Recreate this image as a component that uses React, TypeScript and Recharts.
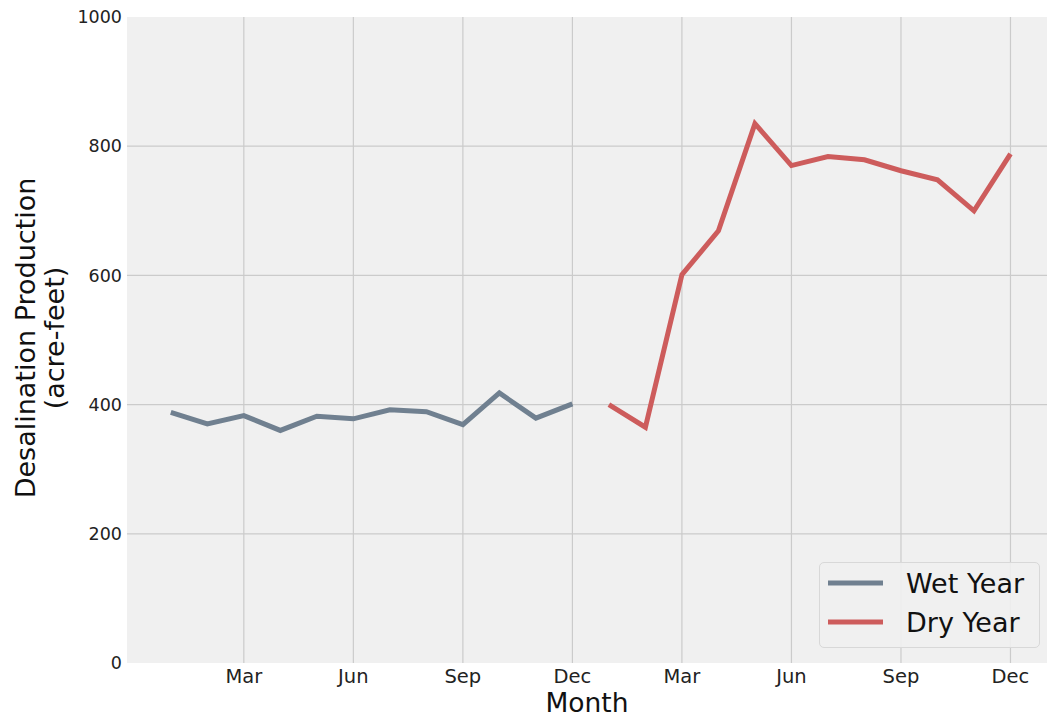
import React from 'react';
import {
  LineChart,
  Line,
  XAxis,
  YAxis,
  CartesianGrid,
  Legend
} from 'recharts';

const monthNames = ['Jan', 'Feb', 'Mar', 'Apr', 'May', 'Jun', 'Jul', 'Aug', 'Sep', 'Oct', 'Nov', 'Dec'];
const seriesNames = ['Wet Year', 'Dry Year'];
const wetYear = [388, 370, 383, 360, 382, 378, 392, 389, 369, 418, 379, 401];
const dryYear = [400, 365, 601, 669, 835, 770, 784, 779, 762, 748, 700, 788];
const xTicks = [2, 5, 8, 11, 14, 17, 20, 23];
const yTicks = [0, 200, 400, 600, 800, 1000];
const yGrid = [200, 400, 600, 800];

const WET_COLOR = '#708090';
const DRY_COLOR = '#cd5c5c';
const FONT = '"DejaVu Sans", sans-serif';

const chartData = [
  ...wetYear.map((v, i) => ({ m: i, wet: v, dry: null as number | null })),
  ...dryYear.map((v, i) => ({ m: i + 12, wet: null as number | null, dry: v }))
];

const renderLegend = (props: unknown) => {
  const { payload } = props as { payload?: { value: string; color: string }[] };
  // keep the plotting order, not alphabetical
  const items = [...(payload ?? [])].sort(
    (a, b) => seriesNames.indexOf(a.value) - seriesNames.indexOf(b.value)
  );
  return (
    <div style={{
      width: 221,
      height: 86,
      boxSizing: 'border-box',
      border: '1px solid #d8d8d8',
      borderRadius: 5,
      backgroundColor: 'rgba(240,240,240,0.9)'
    }}>
      <svg width={219} height={84}>
        {items.map((item, i) => (
          <g key={item.value}>
            <line x1={8} x2={63} y1={20 + i * 39} y2={20 + i * 39} stroke={item.color} strokeWidth={5} />
            <text x={86} y={30 + i * 39} fontSize={27} fontFamily={FONT} fill="#111">{item.value}</text>
          </g>
        ))}
      </svg>
    </div>
  );
};

const renderYLabel = () => (
  <g fontFamily={FONT} fontSize={27} fill="#111" textAnchor="middle">
    <text transform="translate(35, 338) rotate(-90)">Desalination Production</text>
    <text transform="translate(64, 338) rotate(-90)">(acre-feet)</text>
  </g>
);

export default function App() {
  return (
    <div style={{ position: 'absolute', left: 0, top: 0, width: 1047, height: 717, background: '#fff' }}>
      <LineChart
        width={1047}
        height={717}
        data={chartData}
        margin={{ top: 17, right: 0, left: 0, bottom: 0 }}
      >
        <CartesianGrid
          fill="#f0f0f0"
          stroke="#cbcbcb"
          strokeWidth={1.2}
          horizontalValues={yGrid}
          verticalValues={xTicks}
        />
        <XAxis
          dataKey="m"
          type="number"
          domain={[-1.2, 24]}
          ticks={xTicks}
          allowDataOverflow
          tickFormatter={(v: number) => monthNames[((v % 12) + 12) % 12]}
          axisLine={false}
          tickLine={false}
          tickSize={0}
          tickMargin={6}
          height={54}
          tick={{ fontSize: 19.5, fill: '#222', fontFamily: FONT }}
          label={{ value: 'Month', position: 'insideBottom', offset: 5, fontSize: 26.5, fill: '#111', fontFamily: FONT }}
        />
        <YAxis
          type="number"
          domain={[0, 1000]}
          ticks={yTicks}
          width={127}
          axisLine={false}
          tickLine={false}
          tickSize={0}
          tickMargin={5}
          tick={{ fontSize: 17.5, fill: '#222', fontFamily: FONT }}
          label={{ content: renderYLabel }}
        />
        <Legend
          layout="horizontal"
          verticalAlign="middle"
          align="center"
          content={renderLegend}
          wrapperStyle={{ position: 'absolute', left: 819, top: 562, width: 221, height: 86 }}
        />
        <Line
          name="Wet Year"
          type="linear"
          dataKey="wet"
          stroke={WET_COLOR}
          strokeWidth={5}
          dot={false}
          activeDot={false}
          isAnimationActive={false}
        />
        <Line
          name="Dry Year"
          type="linear"
          dataKey="dry"
          stroke={DRY_COLOR}
          strokeWidth={5}
          dot={false}
          activeDot={false}
          isAnimationActive={false}
        />
      </LineChart>
    </div>
  );
}
